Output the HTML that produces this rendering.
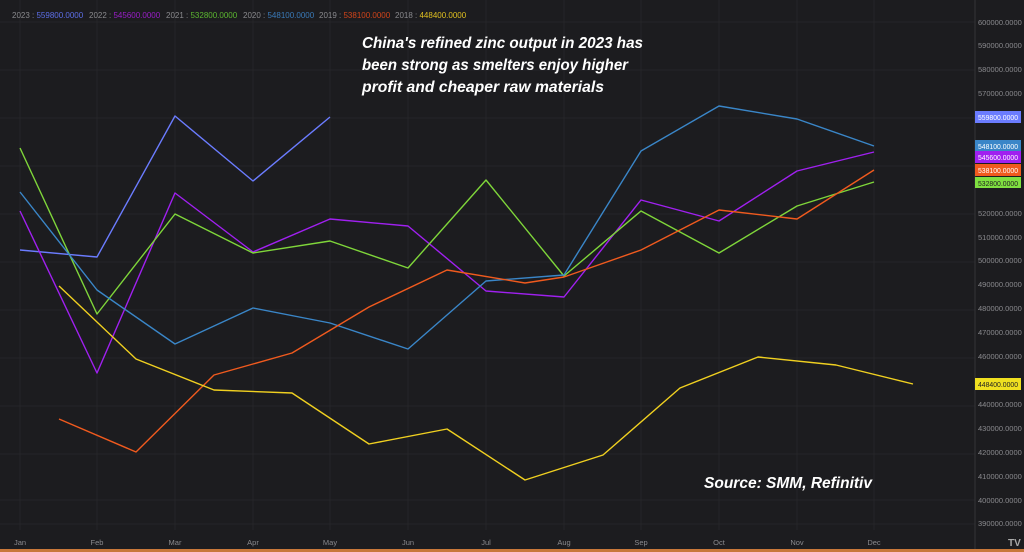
<!DOCTYPE html>
<html><head><meta charset="utf-8"><style>
html,body{margin:0;padding:0;background:#1c1c1f;}
svg{display:block;font-family:"Liberation Sans",sans-serif;}
</style></head><body>
<svg width="1024" height="552" viewBox="0 0 1024 552" xmlns="http://www.w3.org/2000/svg">
<rect width="1024" height="552" fill="#1c1c1f"/>
<g stroke="#252528" stroke-width="1">
<line x1="0" y1="22" x2="975" y2="22"/><line x1="0" y1="70" x2="975" y2="70"/><line x1="0" y1="118" x2="975" y2="118"/><line x1="0" y1="166" x2="975" y2="166"/><line x1="0" y1="214" x2="975" y2="214"/><line x1="0" y1="262" x2="975" y2="262"/><line x1="0" y1="310" x2="975" y2="310"/><line x1="0" y1="358" x2="975" y2="358"/><line x1="0" y1="406" x2="975" y2="406"/><line x1="0" y1="454" x2="975" y2="454"/><line x1="0" y1="500" x2="975" y2="500"/><line x1="0" y1="524" x2="975" y2="524"/>
<line x1="20" y1="0" x2="20" y2="530"/><line x1="97" y1="0" x2="97" y2="530"/><line x1="175" y1="0" x2="175" y2="530"/><line x1="253" y1="0" x2="253" y2="530"/><line x1="330" y1="0" x2="330" y2="530"/><line x1="408" y1="0" x2="408" y2="530"/><line x1="486" y1="0" x2="486" y2="530"/><line x1="564" y1="0" x2="564" y2="530"/><line x1="641" y1="0" x2="641" y2="530"/><line x1="719" y1="0" x2="719" y2="530"/><line x1="797" y1="0" x2="797" y2="530"/><line x1="874" y1="0" x2="874" y2="530"/>
</g>
<line x1="975" y1="0" x2="975" y2="549" stroke="#333337"/>
<g font-size="7.5" fill="#8a8a8e">
<text x="978" y="25">600000.0000</text><text x="978" y="48">590000.0000</text><text x="978" y="72">580000.0000</text><text x="978" y="96">570000.0000</text><text x="978" y="216">520000.0000</text><text x="978" y="240">510000.0000</text><text x="978" y="263">500000.0000</text><text x="978" y="287">490000.0000</text><text x="978" y="311">480000.0000</text><text x="978" y="335">470000.0000</text><text x="978" y="359">460000.0000</text><text x="978" y="407">440000.0000</text><text x="978" y="431">430000.0000</text><text x="978" y="455">420000.0000</text><text x="978" y="479">410000.0000</text><text x="978" y="503">400000.0000</text><text x="978" y="526">390000.0000</text>
</g>
<g font-size="7.5" fill="#8a8a8e" text-anchor="middle">
<text x="20" y="545">Jan</text><text x="97" y="545">Feb</text><text x="175" y="545">Mar</text><text x="253" y="545">Apr</text><text x="330" y="545">May</text><text x="408" y="545">Jun</text><text x="486" y="545">Jul</text><text x="564" y="545">Aug</text><text x="641" y="545">Sep</text><text x="719" y="545">Oct</text><text x="797" y="545">Nov</text><text x="874" y="545">Dec</text>
</g>
<text x="1008" y="546" font-size="10" font-weight="bold" fill="#aaa">TV</text>
<rect x="0" y="549" width="1024" height="3" fill="#c8783a"/>
<g font-size="8">
<text x="12" y="18" fill="#8a8a8e">2023 : <tspan fill="#5c6ee8">559800.0000</tspan></text>
<text x="89" y="18" fill="#8a8a8e">2022 : <tspan fill="#9a1ec8">545600.0000</tspan></text>
<text x="166" y="18" fill="#8a8a8e">2021 : <tspan fill="#5cb830">532800.0000</tspan></text>
<text x="243" y="18" fill="#8a8a8e">2020 : <tspan fill="#3a7ab8">548100.0000</tspan></text>
<text x="319" y="18" fill="#8a8a8e">2019 : <tspan fill="#d0441a">538100.0000</tspan></text>
<text x="395" y="18" fill="#8a8a8e">2018 : <tspan fill="#e0c020">448400.0000</tspan></text>
</g>
<g fill="none" stroke-width="1.4" stroke-linejoin="round">
<polyline stroke="#6b7cff" points="20,250 97,257 175,116 253,181 330,117"/>
<polyline stroke="#a020f0" points="20,211 97,373 175,193 253,252 330,219 408,226 486,291 564,297 641,200 719,221 797,171 874,152"/>
<polyline stroke="#7fd63a" points="20,148 97,314 175,214 253,253 330,241 408,268 486,180 564,276 641,211 719,253 797,206 874,182"/>
<polyline stroke="#3a86c8" points="20,192 97,290 175,344 253,308 330,323 408,349 486,281 564,275 641,151 719,106 797,119 874,146"/>
<polyline stroke="#f05a1e" points="59,419 136,452 214,375 292,353 369,307 447,270 525,283 564,277 641,250 719,210 797,219 874,170"/>
<polyline stroke="#f0d020" points="59,286 136,359 214,390 292,393 369,444 447,429 525,480 603,455 680,388 758,357 836,365 913,384"/>
</g>
<g font-size="7.5">
<rect x="975" y="111" width="46" height="12" fill="#6b7cff"/><text x="978" y="120" fill="#fff" textLength="40" lengthAdjust="spacingAndGlyphs">559800.0000</text>
<rect x="975" y="140" width="46" height="12" fill="#3a86c8"/><text x="978" y="149" fill="#fff" textLength="40" lengthAdjust="spacingAndGlyphs">548100.0000</text>
<rect x="975" y="151" width="46" height="12" fill="#a020f0"/><text x="978" y="160" fill="#fff" textLength="40" lengthAdjust="spacingAndGlyphs">545600.0000</text>
<rect x="975" y="164" width="46" height="12" fill="#f05a1e"/><text x="978" y="173" fill="#fff" textLength="40" lengthAdjust="spacingAndGlyphs">538100.0000</text>
<rect x="975" y="177" width="46" height="11" fill="#7fe040"/><text x="978" y="186" fill="#222" textLength="40" lengthAdjust="spacingAndGlyphs">532800.0000</text>
<rect x="975" y="378" width="46" height="12" fill="#f0e020"/><text x="978" y="387" fill="#222" textLength="40" lengthAdjust="spacingAndGlyphs">448400.0000</text>
</g>
<g font-size="16" font-weight="bold" font-style="italic" fill="#fff">
<text x="362" y="48" textLength="281" lengthAdjust="spacingAndGlyphs">China's refined zinc output in 2023 has</text>
<text x="362" y="70" textLength="266" lengthAdjust="spacingAndGlyphs">been strong as smelters enjoy higher</text>
<text x="362" y="92" textLength="242" lengthAdjust="spacingAndGlyphs">profit and cheaper raw materials</text>
<text x="704" y="488" textLength="168" lengthAdjust="spacingAndGlyphs">Source: SMM, Refinitiv</text>
</g>
</svg>
</body></html>
